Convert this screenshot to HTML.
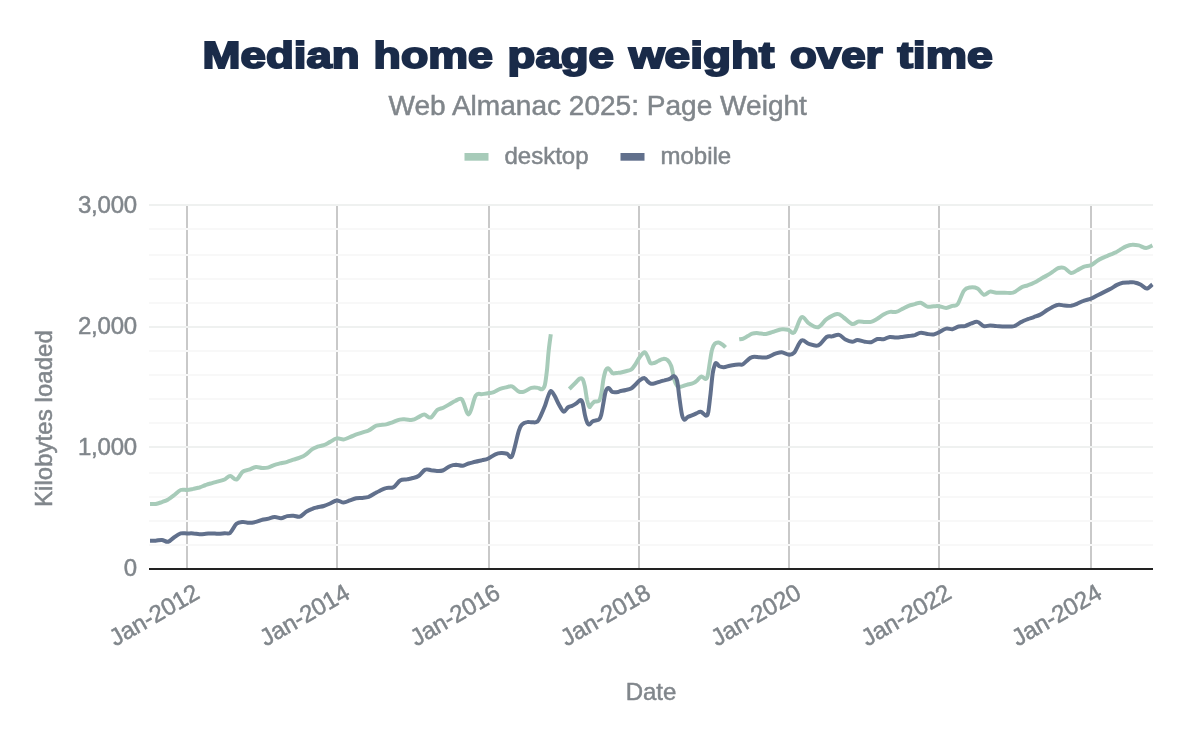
<!DOCTYPE html>
<html lang="en"><head><meta charset="utf-8"><title>Median home page weight over time</title>
<style>
html,body{margin:0;padding:0;background:#fff;}
body{width:1200px;height:742px;overflow:hidden;font-family:"Liberation Sans",sans-serif;}
svg{display:block;}
.t{font-family:"Liberation Sans",sans-serif;font-size:24px;fill:#80868b;stroke:#80868b;stroke-width:0.5px;}
.title{font-family:"Liberation Sans",sans-serif;font-weight:bold;font-size:37.6px;fill:#1a2b49;stroke:#1a2b49;stroke-width:2.0px;stroke-linejoin:miter;}
.sub{font-family:"Liberation Sans",sans-serif;font-size:28.05px;fill:#80868b;stroke:#80868b;stroke-width:0.5px;}
</style></head><body>
<svg width="1200" height="742" viewBox="0 0 1200 742">
<rect width="1200" height="742" fill="#fff"/>
<text class="title" y="68.3" style="white-space:pre"><tspan x="202.6" textLength="157.0" lengthAdjust="spacingAndGlyphs">Median</tspan><tspan textLength="1" lengthAdjust="spacingAndGlyphs"> </tspan><tspan x="373.6" textLength="119.3" lengthAdjust="spacingAndGlyphs">home</tspan><tspan textLength="1" lengthAdjust="spacingAndGlyphs"> </tspan><tspan x="507.6" textLength="106.3" lengthAdjust="spacingAndGlyphs">page</tspan><tspan textLength="1" lengthAdjust="spacingAndGlyphs"> </tspan><tspan x="628.9" textLength="145.4" lengthAdjust="spacingAndGlyphs">weight</tspan><tspan textLength="1" lengthAdjust="spacingAndGlyphs"> </tspan><tspan x="790.0" textLength="92.7" lengthAdjust="spacingAndGlyphs">over</tspan><tspan textLength="1" lengthAdjust="spacingAndGlyphs"> </tspan><tspan x="897.4" textLength="95.5" lengthAdjust="spacingAndGlyphs">time</tspan></text>
<text class="sub" x="597.7" y="114.9" text-anchor="middle">Web Almanac 2025: Page Weight</text>
<rect x="464.5" y="153" width="24" height="7.7" fill="#a7cbb9"/><text class="t" x="504.5" y="164">desktop</text>
<rect x="620.5" y="153" width="24" height="7.7" fill="#61708c"/><text class="t" x="660.5" y="164">mobile</text>
<rect x="186" y="206" width="2" height="362" fill="#c9c9c9"/>
<rect x="336" y="206" width="2" height="362" fill="#c9c9c9"/>
<rect x="488" y="206" width="2" height="362" fill="#c9c9c9"/>
<rect x="638" y="206" width="2" height="362" fill="#c9c9c9"/>
<rect x="788" y="206" width="2" height="362" fill="#c9c9c9"/>
<rect x="938" y="206" width="2" height="362" fill="#c9c9c9"/>
<rect x="1090" y="206" width="2" height="362" fill="#c9c9c9"/>
<rect x="149" y="544" width="1004" height="2" fill="#f8f8f8"/>
<rect x="149" y="520" width="1004" height="2" fill="#f8f8f8"/>
<rect x="149" y="496" width="1004" height="2" fill="#f8f8f8"/>
<rect x="149" y="472" width="1004" height="2" fill="#f8f8f8"/>
<rect x="149" y="446" width="1004" height="2" fill="#eff1f0"/>
<rect x="149" y="422" width="1004" height="2" fill="#f8f8f8"/>
<rect x="149" y="398" width="1004" height="2" fill="#f8f8f8"/>
<rect x="149" y="374" width="1004" height="2" fill="#f8f8f8"/>
<rect x="149" y="350" width="1004" height="2" fill="#f8f8f8"/>
<rect x="149" y="326" width="1004" height="2" fill="#eff1f0"/>
<rect x="149" y="302" width="1004" height="2" fill="#f8f8f8"/>
<rect x="149" y="278" width="1004" height="2" fill="#f8f8f8"/>
<rect x="149" y="254" width="1004" height="2" fill="#f8f8f8"/>
<rect x="149" y="228" width="1004" height="2" fill="#f8f8f8"/>
<rect x="149" y="204" width="1004" height="2" fill="#eff1f0"/>
<path d="M150.0 504.0C151.0 504.0 153.7 504.3 155.7 504.0C157.6 503.6 159.8 502.8 161.9 502.1C164.0 501.3 166.1 500.6 168.2 499.4C170.3 498.1 172.4 496.3 174.5 494.8C176.5 493.2 178.6 490.8 180.7 490.0C182.8 489.2 184.9 490.1 187.0 490.0C189.1 489.8 191.2 489.3 193.3 488.9C195.3 488.5 197.4 488.1 199.5 487.5C201.6 486.8 203.7 485.7 205.8 485.0C207.9 484.2 210.0 483.7 212.1 483.1C214.1 482.5 216.2 482.0 218.3 481.4C220.4 480.8 222.6 480.4 224.6 479.5C226.6 478.6 228.2 476.0 230.2 476.0C232.2 476.0 234.4 480.3 236.5 479.5C238.6 478.8 240.7 473.2 242.8 471.6C244.8 470.0 246.8 470.5 249.0 469.7C251.2 468.9 253.7 467.3 255.9 467.0C258.1 466.7 260.2 467.9 262.2 468.0C264.2 468.1 265.7 468.1 267.8 467.6C269.9 467.1 272.5 465.6 274.7 464.9C276.9 464.2 278.9 463.8 281.0 463.2C283.1 462.7 285.2 462.4 287.2 461.8C289.3 461.2 291.4 460.4 293.5 459.7C295.6 459.0 297.9 458.4 299.8 457.6C301.7 456.8 302.9 456.5 305.0 455.1C307.1 453.7 310.2 450.6 312.3 449.2C314.4 447.8 315.6 447.4 317.5 446.7C319.4 446.0 321.7 445.9 323.8 445.1C325.9 444.3 327.9 443.0 330.1 441.9C332.2 440.8 334.5 438.8 336.7 438.4C339.0 438.0 341.4 439.6 343.6 439.4C345.8 439.2 347.6 438.0 349.9 437.1C352.2 436.3 354.9 435.0 357.2 434.2C359.5 433.4 361.6 432.7 363.5 432.1C365.4 431.5 366.6 431.5 368.7 430.4C370.8 429.4 374.1 426.7 376.0 425.8C377.9 424.9 378.3 425.3 380.0 425.1C381.7 424.8 384.2 424.9 386.3 424.4C388.4 424.0 390.3 423.1 392.5 422.3C394.8 421.5 397.6 420.1 399.8 419.6C402.1 419.1 404.0 419.4 406.1 419.4C408.2 419.5 410.3 420.2 412.4 419.8C414.5 419.5 416.7 418.0 418.6 417.1C420.6 416.2 422.3 414.5 424.3 414.6C426.3 414.7 428.6 418.3 430.8 417.5C432.9 416.8 434.9 411.9 437.0 410.2C439.1 408.6 441.2 408.7 443.3 407.7C445.4 406.7 447.6 405.3 449.5 404.2C451.5 403.1 453.1 401.8 455.2 401.0C457.2 400.2 459.6 397.1 461.9 399.4C464.1 401.6 466.5 415.0 468.8 414.4C471.1 413.8 473.4 399.0 475.7 395.6C477.9 392.2 480.1 394.6 482.3 394.1C484.5 393.7 486.9 393.4 488.8 393.1C490.7 392.8 491.9 392.8 493.8 392.1C495.7 391.4 498.0 389.7 500.1 388.9C502.2 388.1 504.4 387.7 506.4 387.3C508.3 386.8 509.9 385.7 512.0 386.4C514.1 387.1 516.9 390.8 518.9 391.6C520.9 392.5 522.0 392.3 524.1 391.6C526.2 391.0 529.1 388.5 531.4 387.9C533.8 387.3 536.4 387.6 538.1 387.9C539.8 388.1 540.7 389.8 541.9 389.3C543.0 388.9 543.9 388.6 544.8 385.2C545.7 381.8 546.4 374.8 547.1 368.9C547.7 363.0 548.1 355.4 548.8 349.7C549.4 343.9 550.5 336.8 550.8 334.2" fill="none" stroke="#a7cbb9" stroke-width="4" stroke-linejoin="round" stroke-linecap="butt"/>
<path d="M569.3 389.0C570.3 388.0 573.5 384.8 575.3 383.0C577.0 381.3 578.5 379.2 579.7 378.6C581.0 378.0 581.8 378.0 582.7 379.3C583.5 380.7 584.2 383.3 584.9 386.7C585.6 390.2 586.4 396.8 587.1 400.1C587.9 403.4 588.6 406.0 589.4 406.8C590.1 407.5 590.7 405.4 591.6 404.5C592.4 403.7 593.3 402.2 594.5 401.6C595.8 401.0 597.9 402.1 599.0 400.8C600.1 399.6 600.5 397.8 601.2 394.2C602.0 390.6 602.7 383.3 603.4 379.3C604.2 375.4 604.9 372.3 605.7 370.4C606.5 368.6 607.3 368.1 608.2 368.2C609.1 368.3 610.0 370.3 610.9 371.2C611.7 372.0 611.9 373.2 613.1 373.4C614.3 373.6 617.1 372.8 618.3 372.7C619.4 372.5 618.7 372.9 620.0 372.7C621.3 372.4 624.1 371.7 625.9 371.2C627.8 370.7 629.6 370.7 631.1 369.7C632.6 368.7 633.5 367.2 634.8 365.2C636.2 363.3 637.7 360.0 639.3 357.8C640.9 355.7 643.1 352.6 644.5 352.3C645.8 352.1 646.5 354.6 647.4 356.3C648.4 358.1 649.3 361.9 650.4 363.0C651.5 364.1 652.8 363.4 654.1 363.0C655.5 362.6 657.1 361.5 658.6 360.8C660.0 360.1 661.5 359.0 663.0 358.9C664.5 358.7 666.1 358.9 667.5 360.0C668.8 361.2 670.1 362.8 671.2 366.0C672.3 369.2 673.2 376.0 674.1 379.3C675.1 382.7 676.0 384.8 677.1 386.0C678.2 387.2 679.2 386.9 680.8 386.7C682.4 386.6 684.6 385.4 686.7 384.8C688.9 384.2 691.7 383.8 693.4 383.0C695.2 382.3 695.8 381.6 697.1 380.5C698.4 379.4 699.9 376.6 701.3 376.4C702.6 376.1 704.3 378.9 705.3 378.9C706.3 378.9 706.8 379.0 707.5 376.4C708.3 373.7 709.0 367.5 709.7 363.0C710.5 358.6 711.1 352.9 712.0 349.7C712.8 346.5 713.8 344.9 714.9 343.7C716.0 342.5 717.4 342.4 718.6 342.5C719.9 342.7 721.2 343.7 722.3 344.5C723.5 345.3 725.1 346.9 725.6 347.4" fill="none" stroke="#a7cbb9" stroke-width="4" stroke-linejoin="round" stroke-linecap="butt"/>
<path d="M739.2 339.3C739.9 339.2 741.9 339.3 743.3 338.7C744.8 338.2 746.3 336.9 747.8 336.1C749.3 335.2 750.8 334.2 752.2 333.7C753.7 333.2 755.4 333.1 756.7 333.1C758.0 333.1 758.2 333.3 759.8 333.4C761.3 333.6 763.8 334.1 766.0 333.9C768.3 333.6 770.7 332.5 773.4 331.8C776.0 331.0 779.3 329.6 781.7 329.3C784.1 328.9 785.9 329.2 788.0 329.7C790.1 330.2 792.0 334.5 794.2 332.4C796.5 330.3 799.1 318.6 801.5 317.2C804.0 315.7 806.1 321.7 808.9 323.4C811.6 325.1 815.3 327.9 818.3 327.2C821.2 326.5 823.5 321.4 826.6 319.2C829.7 317.0 834.3 314.4 837.1 314.0C839.8 313.7 840.8 315.5 843.3 317.2C845.8 318.8 849.7 323.3 852.2 324.0C854.7 324.7 856.4 321.8 858.5 321.5C860.6 321.1 862.7 321.8 864.7 321.9C866.8 322.0 868.9 322.4 871.0 321.9C873.1 321.4 875.2 320.0 877.3 318.8C879.4 317.5 881.5 315.7 883.5 314.6C885.6 313.4 887.7 312.3 889.8 311.9C891.9 311.4 894.0 312.4 896.1 311.9C898.2 311.4 900.3 310.0 902.3 308.9C904.4 307.9 906.5 306.6 908.6 305.8C910.7 305.0 912.9 304.7 914.9 304.1C916.9 303.6 918.6 302.3 920.7 302.7C922.8 303.1 925.2 306.1 927.4 306.6C929.6 307.2 931.8 306.3 933.7 306.2C935.6 306.2 936.8 306.0 938.9 306.2C941.0 306.5 943.9 308.0 946.2 307.9C948.5 307.8 950.5 306.4 952.5 305.8C954.4 305.2 955.8 306.7 957.7 304.1C959.6 301.6 961.9 293.4 964.0 290.6C966.0 287.8 968.0 287.8 970.2 287.4C972.5 287.1 975.3 287.3 977.5 288.5C979.8 289.7 981.7 294.2 983.8 294.7C985.9 295.3 988.0 292.0 990.1 291.6C992.1 291.3 993.9 292.5 996.3 292.7C998.8 292.8 1001.9 292.7 1004.7 292.7C1007.5 292.7 1010.2 293.5 1013.0 292.7C1015.8 291.8 1019.0 288.7 1021.4 287.4C1023.8 286.2 1025.6 286.1 1027.7 285.3C1029.7 284.6 1031.5 284.1 1033.9 282.8C1036.4 281.6 1040.1 279.3 1042.3 278.0C1044.4 276.8 1045.1 276.6 1046.8 275.5C1048.5 274.5 1050.7 273.1 1052.6 271.8C1054.6 270.6 1056.5 268.6 1058.5 268.0C1060.4 267.4 1062.2 267.2 1064.3 268.0C1066.4 268.8 1068.9 272.6 1071.0 273.0C1073.1 273.4 1074.8 271.5 1076.9 270.5C1078.9 269.5 1081.2 267.7 1083.5 266.8C1085.9 265.9 1088.7 266.2 1091.1 265.2C1093.4 264.1 1095.5 261.8 1097.7 260.5C1100.0 259.1 1102.3 258.1 1104.4 257.1C1106.5 256.2 1108.5 255.4 1110.3 254.6C1112.1 253.9 1113.6 253.5 1115.3 252.6C1117.0 251.8 1118.5 250.7 1120.3 249.6C1122.1 248.6 1124.2 247.1 1126.1 246.3C1128.1 245.5 1129.9 244.9 1132.0 244.8C1134.1 244.6 1136.3 244.9 1138.7 245.4C1141.0 246.0 1143.9 248.0 1146.2 248.0C1148.5 248.0 1151.4 245.9 1152.4 245.4" fill="none" stroke="#a7cbb9" stroke-width="4" stroke-linejoin="round" stroke-linecap="butt"/>
<path d="M150.0 540.7C151.0 540.7 153.7 540.9 155.7 540.7C157.6 540.6 159.8 539.7 161.9 539.9C164.0 540.1 166.1 542.3 168.2 541.8C170.3 541.3 172.4 538.4 174.5 537.0C176.5 535.6 178.6 534.0 180.7 533.4C182.8 532.8 184.9 533.4 187.0 533.4C189.1 533.4 191.2 533.3 193.3 533.4C195.3 533.5 197.4 534.2 199.5 534.2C201.6 534.3 203.7 534.0 205.8 533.8C207.9 533.7 210.0 533.4 212.1 533.4C214.1 533.4 216.2 533.9 218.3 533.8C220.4 533.8 222.6 533.4 224.6 533.2C226.6 533.0 228.2 534.3 230.2 532.8C232.2 531.2 234.4 525.6 236.5 523.8C238.6 522.0 240.7 522.1 242.8 521.9C244.8 521.7 246.8 522.8 249.0 522.8C251.2 522.8 253.7 522.4 255.9 521.9C258.1 521.4 260.2 520.4 262.2 519.8C264.2 519.3 265.7 519.2 267.8 518.8C269.9 518.3 272.5 517.2 274.7 517.1C276.9 517.0 278.9 518.3 281.0 518.2C283.1 518.0 285.2 516.5 287.2 516.1C289.3 515.7 291.4 515.6 293.5 515.7C295.6 515.8 297.7 517.3 299.8 516.7C301.9 516.1 304.0 513.2 306.0 511.9C308.1 510.6 310.4 509.5 312.3 508.8C314.2 508.0 315.6 507.8 317.5 507.3C319.4 506.8 321.7 506.7 323.8 506.0C325.9 505.4 327.9 504.5 330.1 503.5C332.2 502.6 334.5 500.6 336.7 500.4C339.0 500.2 341.4 502.5 343.6 502.5C345.8 502.5 347.8 501.1 349.9 500.4C352.0 499.7 354.1 498.7 356.2 498.3C358.3 497.9 360.3 498.1 362.4 497.9C364.5 497.7 366.4 497.7 368.7 496.9C371.0 496.0 374.2 493.6 376.0 492.7C377.8 491.7 377.6 491.8 379.2 491.1C380.9 490.3 383.6 488.7 385.9 488.1C388.3 487.4 391.1 488.5 393.4 487.2C395.8 486.0 397.9 481.8 400.1 480.5C402.4 479.2 404.7 479.8 406.8 479.4C408.9 478.9 410.7 478.6 412.7 478.0C414.6 477.5 416.4 477.4 418.5 476.0C420.6 474.6 423.1 470.6 425.2 469.7C427.3 468.7 429.1 470.0 431.0 470.2C433.0 470.4 434.9 471.0 436.9 471.0C438.8 471.1 440.5 471.3 442.7 470.5C445.0 469.7 448.0 466.9 450.3 466.0C452.5 465.1 454.0 464.9 456.1 464.8C458.2 464.8 460.7 465.9 462.8 465.7C464.9 465.4 466.5 464.1 468.6 463.5C470.7 462.9 473.1 462.4 475.3 461.8C477.5 461.3 479.9 460.7 482.0 460.2C484.1 459.6 485.6 459.8 487.8 458.8C490.1 457.8 493.1 455.2 495.4 454.3C497.6 453.4 499.3 453.2 501.2 453.1C503.2 453.0 505.2 453.3 507.1 453.8C508.9 454.3 510.1 459.8 512.1 456.0C514.0 452.2 517.1 436.1 518.8 430.9C520.4 425.7 520.5 426.0 521.9 424.6C523.3 423.1 525.3 422.4 527.1 422.1C528.8 421.7 530.5 422.4 532.2 422.3C534.0 422.3 536.0 422.8 537.4 421.6C538.9 420.4 539.9 417.5 541.1 414.9C542.4 412.3 543.7 409.0 544.9 406.0C546.0 403.1 546.8 399.7 547.8 397.1C548.8 394.6 549.7 391.1 550.8 390.9C551.9 390.7 553.1 393.4 554.5 395.6C555.9 397.9 557.4 401.9 558.9 404.5C560.5 407.2 562.2 411.2 563.7 411.7C565.2 412.2 566.4 408.5 567.8 407.5C569.3 406.5 570.8 406.5 572.3 405.7C573.8 405.0 575.4 404.0 576.7 403.1C578.1 402.1 579.5 400.1 580.5 400.1C581.4 400.1 581.9 400.6 582.7 403.1C583.4 405.5 584.2 411.7 584.9 414.9C585.6 418.1 586.4 420.7 587.1 422.3C587.9 424.0 588.5 424.7 589.4 424.6C590.2 424.4 591.3 422.3 592.3 421.6C593.3 420.9 594.2 420.9 595.3 420.6C596.4 420.2 598.0 420.3 599.0 419.4C600.0 418.4 600.5 417.7 601.2 414.9C602.0 412.2 602.7 407.0 603.4 403.1C604.2 399.1 604.8 393.7 605.7 391.2C606.5 388.7 607.5 387.8 608.6 387.9C609.8 388.1 610.7 391.3 612.3 391.9C614.0 392.6 617.0 392.1 618.3 391.9C619.6 391.8 618.7 391.5 620.0 391.2C621.3 390.9 624.1 390.5 625.9 390.0C627.8 389.6 629.5 389.4 631.1 388.5C632.7 387.6 634.1 385.9 635.6 384.5C637.1 383.1 638.5 381.1 640.0 380.1C641.5 379.0 643.2 378.0 644.5 378.1C645.7 378.3 646.3 380.2 647.4 381.1C648.6 382.1 649.8 383.5 651.1 383.8C652.5 384.1 654.1 383.4 655.6 383.0C657.1 382.7 658.6 382.0 660.0 381.6C661.5 381.1 662.9 380.8 664.5 380.4C666.1 379.9 668.1 379.6 669.7 378.9C671.3 378.2 672.9 375.7 674.1 376.1C675.4 376.4 676.2 377.3 677.1 380.8C678.0 384.3 678.5 391.4 679.3 397.1C680.1 402.8 681.1 411.1 682.0 414.9C682.9 418.7 683.6 419.5 684.5 419.8C685.4 420.2 686.3 417.9 687.5 417.2C688.7 416.4 690.5 416.0 691.9 415.4C693.4 414.8 694.9 414.1 696.4 413.4C697.9 412.8 699.2 411.3 700.8 411.7C702.4 412.0 704.8 415.6 706.0 415.7C707.3 415.7 707.5 415.6 708.3 412.0C709.0 408.4 709.7 400.6 710.5 394.2C711.2 387.7 712.0 378.3 712.7 373.4C713.4 368.5 714.3 366.2 714.9 364.5C715.6 362.8 716.0 363.0 716.7 363.3C717.5 363.6 718.2 365.6 719.4 366.3C720.6 366.9 722.1 367.3 723.8 367.2C725.6 367.1 727.8 366.1 729.8 365.7C731.7 365.3 734.0 365.0 735.7 364.8C737.4 364.6 738.8 364.6 740.0 364.5C741.2 364.4 741.2 365.4 743.1 364.1C745.0 362.9 748.6 358.4 751.4 357.3C754.2 356.1 757.2 357.3 759.8 357.3C762.4 357.3 764.5 357.8 767.1 357.3C769.7 356.7 773.0 354.5 775.4 353.7C777.9 352.9 779.4 352.1 781.7 352.2C784.0 352.4 786.9 354.7 789.0 354.7C791.1 354.8 792.1 355.0 794.2 352.7C796.3 350.3 799.1 342.0 801.5 340.5C804.0 339.1 806.1 343.1 808.9 343.9C811.6 344.7 815.3 346.5 818.3 345.3C821.2 344.2 824.3 338.5 826.6 337.0C828.9 335.5 829.7 336.7 831.8 336.4C833.9 336.0 836.9 334.4 839.1 334.9C841.4 335.4 843.2 338.4 845.4 339.5C847.6 340.6 850.2 341.6 852.2 341.7C854.2 341.8 855.3 340.1 857.4 340.1C859.5 340.1 862.5 341.4 864.7 341.7C867.0 342.1 868.9 342.6 871.0 342.2C873.1 341.7 875.2 339.5 877.3 339.0C879.4 338.5 881.5 339.6 883.5 339.2C885.6 338.9 887.7 337.2 889.8 336.9C891.9 336.7 894.0 337.6 896.1 337.6C898.2 337.6 900.3 337.2 902.3 336.9C904.4 336.7 906.5 336.4 908.6 336.1C910.7 335.8 912.9 335.6 914.9 335.1C916.9 334.5 918.6 332.9 920.7 332.8C922.8 332.6 925.2 333.7 927.4 334.0C929.6 334.3 931.8 334.7 933.7 334.4C935.6 334.1 936.8 333.3 938.9 332.3C941.0 331.4 943.9 329.1 946.2 328.6C948.5 328.1 950.4 329.6 952.5 329.2C954.6 328.9 956.6 327.0 958.7 326.5C960.8 326.0 962.9 326.6 965.0 326.1C967.1 325.6 969.2 324.1 971.3 323.4C973.4 322.7 975.4 321.4 977.5 321.9C979.6 322.3 981.7 325.5 983.8 326.1C985.9 326.7 988.0 325.4 990.1 325.4C992.1 325.4 993.9 325.9 996.3 326.1C998.8 326.2 1001.7 326.5 1004.7 326.5C1007.6 326.5 1011.3 326.8 1014.1 326.1C1016.9 325.3 1019.1 323.0 1021.4 321.9C1023.6 320.7 1025.6 320.0 1027.7 319.2C1029.7 318.4 1031.8 317.9 1033.9 317.1C1036.0 316.3 1038.0 315.7 1040.2 314.6C1042.3 313.5 1044.7 311.6 1046.8 310.3C1048.9 309.0 1050.7 307.9 1052.6 306.9C1054.6 306.0 1056.5 305.0 1058.5 304.8C1060.4 304.5 1062.2 305.4 1064.3 305.6C1066.4 305.8 1068.9 306.0 1071.0 305.8C1073.1 305.5 1074.8 304.8 1076.9 303.9C1078.9 303.1 1081.2 301.6 1083.5 300.8C1085.9 299.9 1088.7 299.5 1091.1 298.6C1093.4 297.7 1095.5 296.4 1097.7 295.2C1100.0 294.1 1102.2 293.0 1104.4 291.9C1106.7 290.8 1109.0 289.7 1111.1 288.6C1113.2 287.4 1115.0 285.9 1117.0 284.9C1118.9 283.9 1120.9 283.1 1122.8 282.7C1124.8 282.3 1126.7 282.4 1128.7 282.4C1130.6 282.3 1132.6 282.0 1134.5 282.4C1136.5 282.7 1138.3 283.3 1140.4 284.4C1142.4 285.4 1144.7 288.6 1146.7 288.6C1148.7 288.6 1151.4 285.1 1152.4 284.4" fill="none" stroke="#61708c" stroke-width="4" stroke-linejoin="round" stroke-linecap="butt"/>
<rect x="149" y="568" width="1004" height="2" fill="#222222"/>
<text class="t" x="137" y="575.5" text-anchor="end" style="letter-spacing:-0.2px">0</text>
<text class="t" x="137" y="454.6" text-anchor="end" style="letter-spacing:-0.2px">1,000</text>
<text class="t" x="137" y="333.6" text-anchor="end" style="letter-spacing:-0.2px">2,000</text>
<text class="t" x="137" y="212.6" text-anchor="end" style="letter-spacing:-0.2px">3,000</text>
<text class="t" transform="translate(201.0 597.3) rotate(-30)" text-anchor="end" style="letter-spacing:-0.15px">Jan-2012</text>
<text class="t" transform="translate(351.4 597.3) rotate(-30)" text-anchor="end" style="letter-spacing:-0.15px">Jan-2014</text>
<text class="t" transform="translate(501.8 597.3) rotate(-30)" text-anchor="end" style="letter-spacing:-0.15px">Jan-2016</text>
<text class="t" transform="translate(652.2 597.3) rotate(-30)" text-anchor="end" style="letter-spacing:-0.15px">Jan-2018</text>
<text class="t" transform="translate(802.6 597.3) rotate(-30)" text-anchor="end" style="letter-spacing:-0.15px">Jan-2020</text>
<text class="t" transform="translate(953.0 597.3) rotate(-30)" text-anchor="end" style="letter-spacing:-0.15px">Jan-2022</text>
<text class="t" transform="translate(1103.4 597.3) rotate(-30)" text-anchor="end" style="letter-spacing:-0.15px">Jan-2024</text>
<text class="t" transform="translate(52 418.6) rotate(-90)" text-anchor="middle" style="letter-spacing:0.05px">Kilobytes loaded</text>
<text class="t" x="651" y="699.6" text-anchor="middle">Date</text>
</svg>
</body></html>
